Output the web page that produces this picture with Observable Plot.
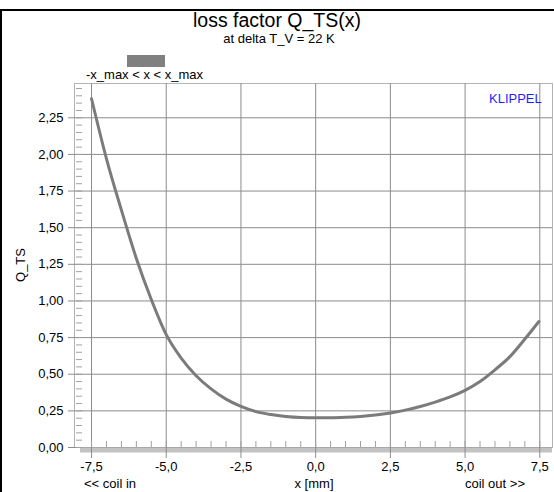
<!DOCTYPE html>
<html>
<head>
<meta charset="utf-8">
<script src="https://cdn.jsdelivr.net/npm/d3@7"></script>
<script src="https://cdn.jsdelivr.net/npm/@observablehq/plot@0.6"></script>
<style>
  body { margin: 0; background: #fff; font-family: "Liberation Sans", Arial, sans-serif; }
  #wrap { position: relative; width: 554px; height: 492px; overflow: hidden; }
  #wrap svg { position: absolute; left: 0; top: 0; }
  .border { position: absolute; left: 0; top: 9px; width: 560px; height: 500px;
            border-top: 2px solid #000; border-left: 2px solid #000; }
  .t { position: absolute; white-space: nowrap; color: #000; line-height: 1; }
  .title { font-size: 19.5px; left: 0; width: 554px; text-align: center; top: 11px; }
  .sub { font-size: 13px; left: 0; width: 558px; text-align: center; top: 32px; }
  .swatch { position: absolute; left: 127px; top: 55px; width: 38px; height: 12px; background: #808080; }
  .leg { font-size: 13px; left: 86px; top: 68px; }
  .brand { font-size: 13px; left: 489px; top: 92px; color: #1f1fff; }
  .ylab { font-size: 13px; left: 20px; top: 265px; transform: translate(-50%, -50%) rotate(-90deg); }
  .xl { font-size: 13px; top: 477px; }
</style>
</head>
<body>
<div id="wrap">
  <div class="border"></div>
</div>
<script>
// Loss factor Q_TS over coil displacement x (mm)
const displacement = [-7.5, -7.0, -6.5, -6.0, -5.5, -5.0, -4.5, -4.0, -3.5, -3.0, -2.5, -2.0, -1.5, -1.0, -0.5,
                      0.0, 0.5, 1.0, 1.5, 2.0, 2.5, 3.0, 3.5, 4.0, 4.5, 5.0, 5.5, 6.0, 6.5, 7.0, 7.47];
const qts = [2.38, 1.97, 1.62, 1.29, 1.01, 0.77, 0.61, 0.49, 0.40, 0.33, 0.28, 0.245, 0.225, 0.212, 0.205,
             0.203, 0.203, 0.206, 0.212, 0.222, 0.236, 0.255, 0.28, 0.31, 0.345, 0.39, 0.45, 0.53, 0.62, 0.74, 0.86];

const xTicks = [-7.5, -5.0, -2.5, 0.0, 2.5, 5.0, 7.5];
const yTicks = [0, 0.25, 0.5, 0.75, 1.0, 1.25, 1.5, 1.75, 2.0, 2.25];
const xMinor = d3.range(-7.5, 7.51, 0.5);
const yMinor = d3.range(0, 2.46, 0.05);

const points = displacement.map((x, i) => ({x, q: qts[i]}));
const comma = (d, n) => d.toFixed(n).replace(".", ",");

const gridColor = "#8c8c8c";

const chart = Plot.plot({
  width: 554,
  height: 492,
  marginTop: 83,
  marginBottom: 45,
  marginLeft: 74,
  marginRight: 2,
  x: {domain: [-8.07, 7.925], label: null},
  y: {domain: [0, 2.484], label: null},
  style: {fontFamily: "'Liberation Sans', Arial, sans-serif", fontSize: "13px", background: "transparent", overflow: "visible"},
  marks: [
    Plot.frame({stroke: "#b4b4b4"}),
    Plot.gridY(yTicks, {stroke: gridColor, strokeOpacity: 1}),
    Plot.gridX(xTicks, {stroke: gridColor, strokeOpacity: 1}),
    Plot.ruleY([0], {x1: -7.87, x2: 7.925, stroke: "#c3c3c3", strokeWidth: 5, dy: 2.5}),
    Plot.axisY(yTicks, {tickSize: 6, tickPadding: 5, tickFormat: d => comma(d, 2), stroke: gridColor, fill: "#000", label: null}),
    Plot.axisY(yMinor, {tickSize: -6, dx: 2, text: null, stroke: "#a0a0a0", label: null}),
    Plot.axisX(xTicks, {tickSize: 11, tickPadding: 3, tickFormat: d => comma(d, 1), stroke: gridColor, fill: "#000", label: null}),
    Plot.axisX(xMinor, {tickSize: -6, text: null, stroke: "#a0a0a0", label: null}),
    Plot.line(points, {x: "x", y: "q", stroke: "#7b7b7b", strokeWidth: 3, curve: "monotone-x"})
  ]
});

const wrap = document.getElementById("wrap");
wrap.appendChild(chart);

const addText = (cls, txt) => {
  const el = document.createElement("div");
  el.className = cls;
  el.textContent = txt;
  wrap.appendChild(el);
  return el;
};
addText("t title", "loss factor Q_TS(x)");
addText("t sub", "at delta T_V = 22 K");
const sw = document.createElement("div");
sw.className = "swatch";
wrap.appendChild(sw);
addText("t leg", "-x_max < x < x_max");
addText("t brand", "KLIPPEL");
addText("t ylab", "Q_TS");
const a = addText("t xl", "<< coil in"); a.style.left = "84px";
const b = addText("t xl", "x [mm]"); b.style.left = "314px"; b.style.transform = "translateX(-50%)";
const c = addText("t xl", "coil out >>"); c.style.right = "29px";
</script>
</body>
</html>
